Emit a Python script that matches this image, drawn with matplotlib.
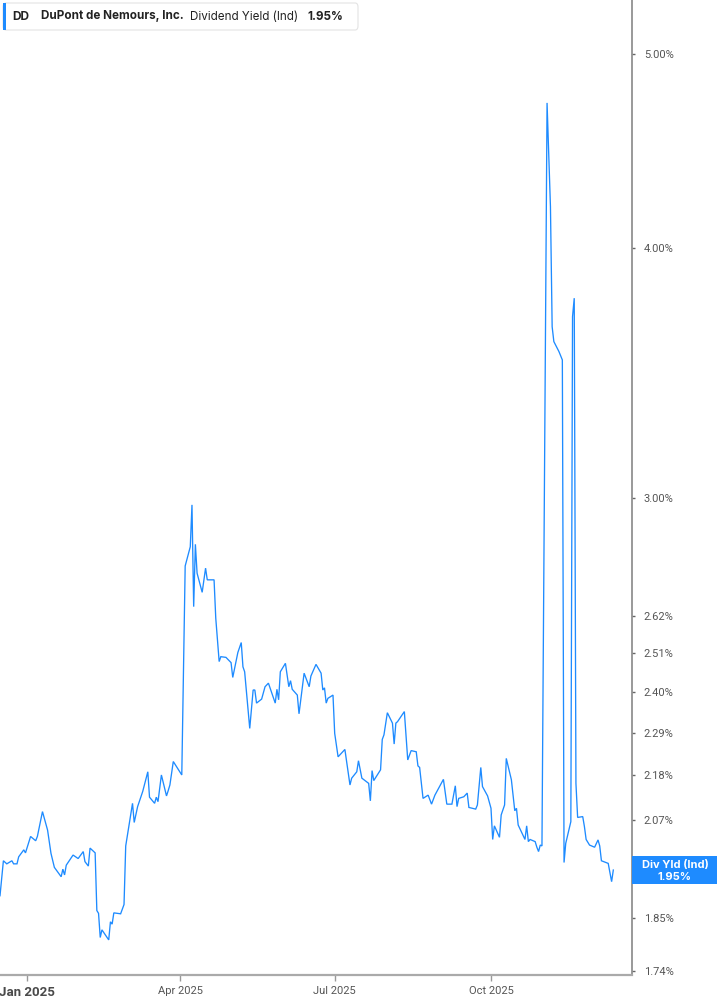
import numpy as np
import pandas as pd
import matplotlib
matplotlib.use("Agg")
import matplotlib.pyplot as plt
from matplotlib.patches import FancyBboxPatch, Rectangle

# Dividend yield (indicated), %
dates = [
    "2024-12-16", "2024-12-18", "2024-12-20", "2024-12-23", "2024-12-24", "2024-12-26",
    "2024-12-27", "2024-12-30", "2024-12-31", "2025-01-03", "2025-01-06", "2025-01-07",
    "2025-01-10", "2025-01-13", "2025-01-15", "2025-01-17", "2025-01-21", "2025-01-22",
    "2025-01-23", "2025-01-24", "2025-01-28", "2025-01-31", "2025-02-03", "2025-02-04",
    "2025-02-06", "2025-02-07", "2025-02-10", "2025-02-11", "2025-02-12", "2025-02-13",
    "2025-02-14", "2025-02-18", "2025-02-19", "2025-02-20", "2025-02-21", "2025-02-25",
    "2025-02-27", "2025-02-28", "2025-03-04", "2025-03-05", "2025-03-07", "2025-03-10",
    "2025-03-13", "2025-03-14", "2025-03-17", "2025-03-18", "2025-03-19", "2025-03-21",
    "2025-03-24", "2025-03-25", "2025-03-26", "2025-03-28", "2025-04-02", "2025-04-04",
    "2025-04-07", "2025-04-08", "2025-04-09", "2025-04-10", "2025-04-11", "2025-04-14",
    "2025-04-16", "2025-04-17", "2025-04-21", "2025-04-22", "2025-04-24", "2025-04-25",
    "2025-04-28", "2025-05-01", "2025-05-02", "2025-05-05", "2025-05-07", "2025-05-08",
    "2025-05-09", "2025-05-12", "2025-05-14", "2025-05-15", "2025-05-16", "2025-05-19",
    "2025-05-21", "2025-05-23", "2025-05-27", "2025-05-28", "2025-05-29", "2025-05-30",
    "2025-06-02", "2025-06-04", "2025-06-05", "2025-06-06", "2025-06-09", "2025-06-10",
    "2025-06-13", "2025-06-16", "2025-06-17", "2025-06-20", "2025-06-23", "2025-06-24",
    "2025-06-25", "2025-06-26", "2025-06-27", "2025-06-30", "2025-07-01", "2025-07-03",
    "2025-07-07", "2025-07-10", "2025-07-11", "2025-07-14", "2025-07-15", "2025-07-17",
    "2025-07-21", "2025-07-22", "2025-07-23", "2025-07-24", "2025-07-28", "2025-07-29",
    "2025-07-30", "2025-08-01", "2025-08-04", "2025-08-05", "2025-08-06", "2025-08-07",
    "2025-08-11", "2025-08-13", "2025-08-15", "2025-08-18", "2025-08-19", "2025-08-20",
    "2025-08-22", "2025-08-25", "2025-08-27", "2025-08-29", "2025-09-03", "2025-09-05",
    "2025-09-08", "2025-09-10", "2025-09-11", "2025-09-12", "2025-09-15", "2025-09-17",
    "2025-09-18", "2025-09-22", "2025-09-23", "2025-09-25", "2025-09-26", "2025-09-29",
    "2025-10-01", "2025-10-02", "2025-10-03", "2025-10-06", "2025-10-07", "2025-10-09",
    "2025-10-10", "2025-10-13", "2025-10-15", "2025-10-16", "2025-10-17", "2025-10-21",
    "2025-10-22", "2025-10-23", "2025-10-24", "2025-10-27", "2025-10-28", "2025-10-29",
    "2025-10-30", "2025-10-31", "2025-11-03", "2025-11-05", "2025-11-06", "2025-11-07",
    "2025-11-10", "2025-11-12", "2025-11-13", "2025-11-14", "2025-11-17", "2025-11-18",
    "2025-11-19", "2025-11-20", "2025-11-21", "2025-11-24", "2025-11-25", "2025-11-26",
    "2025-11-28", "2025-12-01", "2025-12-03", "2025-12-04", "2025-12-05", "2025-12-09",
    "2025-12-11", "2025-12-12",
]
div_yield = [
    1.898, 1.976, 1.969, 1.976, 1.969, 1.969, 1.985, 2.001, 1.994, 2.032, 2.022, 2.032,
    2.091, 2.047, 1.993, 1.961, 1.940, 1.957, 1.944, 1.966, 1.989, 1.981, 1.997, 1.974,
    1.964, 2.005, 1.994, 1.866, 1.860, 1.809, 1.825, 1.804, 1.842, 1.837, 1.861, 1.859,
    1.879, 2.010, 2.111, 2.065, 2.103, 2.140, 2.189, 2.126, 2.111, 2.126, 2.115, 2.181,
    2.129, 2.142, 2.156, 2.215, 2.181, 2.774, 2.836, 2.976, 2.647, 2.844, 2.751, 2.691,
    2.767, 2.730, 2.730, 2.612, 2.485, 2.499, 2.497, 2.482, 2.440, 2.511, 2.540, 2.470,
    2.456, 2.301, 2.405, 2.405, 2.369, 2.380, 2.414, 2.424, 2.369, 2.407, 2.378, 2.456,
    2.480, 2.414, 2.431, 2.407, 2.391, 2.340, 2.452, 2.414, 2.444, 2.477, 2.452, 2.405,
    2.411, 2.369, 2.382, 2.391, 2.288, 2.227, 2.246, 2.156, 2.173, 2.189, 2.217, 2.173,
    2.160, 2.117, 2.192, 2.167, 2.194, 2.272, 2.284, 2.343, 2.315, 2.260, 2.315, 2.319,
    2.346, 2.219, 2.243, 2.240, 2.204, 2.200, 2.123, 2.131, 2.109, 2.131, 2.170, 2.109,
    2.109, 2.154, 2.103, 2.123, 2.127, 2.136, 2.101, 2.097, 2.107, 2.200, 2.152, 2.129,
    2.099, 2.025, 2.057, 2.030, 2.083, 2.107, 2.223, 2.169, 2.093, 2.099, 2.059, 2.025,
    2.057, 2.020, 2.025, 2.020, 2.007, 1.997, 2.012, 2.010, 4.726, 4.194, 3.653, 3.591,
    3.550, 3.516, 1.972, 2.016, 2.067, 3.696, 3.775, 2.160, 2.077, 2.079, 2.055, 2.025,
    2.012, 2.007, 2.024, 2.010, 1.976, 1.970, 1.929, 1.955,
]
last_label = "1.95%"

x_ticks = ["2025-01-01", "2025-04-01", "2025-07-01", "2025-10-01"]
x_tick_labels = ["Jan 2025", "Apr 2025", "Jul 2025", "Oct 2025"]
y_ticks = [1.74, 1.85, 1.96, 2.07, 2.18, 2.29, 2.40, 2.51, 2.62, 3.00, 4.00, 5.00]

plt.rcParams["font.family"] = ["Inter", "DejaVu Sans"]

W, H = 717, 1005
fig = plt.figure(figsize=(W / 100, H / 100), dpi=100)
ax = fig.add_axes([0, 30 / H, 632 / W, 1 - 30 / H])

line_color = "#1E8BFF"
ax.plot(pd.to_datetime(dates), div_yield, color=line_color, lw=0.95, solid_joinstyle="miter")

ax.set_yscale("log")
ax.set_ylim(1.7326, 5.32)
ax.set_xlim(pd.Timestamp("2024-12-16"), pd.Timestamp("2025-12-23"))

ax.yaxis.tick_right()
ax.yaxis.set_minor_locator(matplotlib.ticker.NullLocator())
ax.set_yticks(y_ticks)
ax.set_yticklabels([f"{v:.2f}%" for v in y_ticks])
ax.tick_params(axis="y", which="major", length=2.5, width=1, color="#666666",
               labelcolor="#555555", labelsize=8, pad=6)
for lbl in ax.get_yticklabels():
    lbl.set_fontfamily(["Roboto", "DejaVu Sans"])

ax.set_xticks(pd.to_datetime(x_ticks))
ax.set_xticklabels(x_tick_labels)
ax.tick_params(axis="x", length=4, width=1, color="#999999", labelcolor="#555555",
               labelsize=8, pad=4)
for lbl in ax.get_xticklabels():
    lbl.set_fontfamily(["Roboto", "DejaVu Sans"])
first = ax.get_xticklabels()[0]
first.set_fontweight("bold")
first.set_color("#4a4a4a")
first.set_fontsize(9.5)

for side in ["top", "left"]:
    ax.spines[side].set_visible(False)
ax.spines["right"].set_color("#888888")
ax.spines["right"].set_linewidth(1.2)
ax.spines["bottom"].set_color("#aaaaaa")
ax.spines["bottom"].set_linewidth(1.6)

# current value tag on the right axis
y_disp = ax.transData.transform((ax.get_xlim()[0], div_yield[-1]))[1]
y_fig = y_disp / H
tag_h = 28 / H
fig.add_artist(Rectangle((632 / W, y_fig - tag_h / 2), 85 / W, tag_h,
                         transform=fig.transFigure, facecolor=line_color,
                         edgecolor="none", zorder=5))
fig.text(675 / W, y_fig + 5 / H, "Div Yld (Ind)", color="white", fontsize=8,
         fontweight="bold", ha="center", va="center", zorder=6)
fig.text(675 / W, y_fig - 7 / H, last_label, color="white", fontsize=8,
         fontweight="bold", ha="center", va="center", zorder=6)

# header box
fig.add_artist(FancyBboxPatch((3 / W, 1 - 30 / H), 355 / W, 27 / H,
                              boxstyle="round,pad=0,rounding_size=0.004",
                              transform=fig.transFigure, facecolor="white",
                              edgecolor="#e3e3e3", lw=0.8, zorder=5))
fig.add_artist(Rectangle((3 / W, 1 - 30 / H), 3 / W, 27 / H, transform=fig.transFigure,
                         facecolor=line_color, edgecolor="none", zorder=6))
hy = 1 - 16.5 / H
fig.text(12 / W, hy, "DD", fontsize=8.5, fontweight="bold", color="#222222", va="center", zorder=7)
fig.text(41 / W, hy, "DuPont de Nemours, Inc.", fontsize=8.4, fontweight="bold",
         color="#222222", va="center", zorder=7)
fig.text(190 / W, hy, "Dividend Yield (Ind)", fontsize=8.4, color="#222222",
         va="center", zorder=7)
fig.text(307 / W, hy, last_label, fontsize=8.4, fontweight="bold", color="#222222",
         va="center", zorder=7)

fig.savefig("out.png", dpi=100)
